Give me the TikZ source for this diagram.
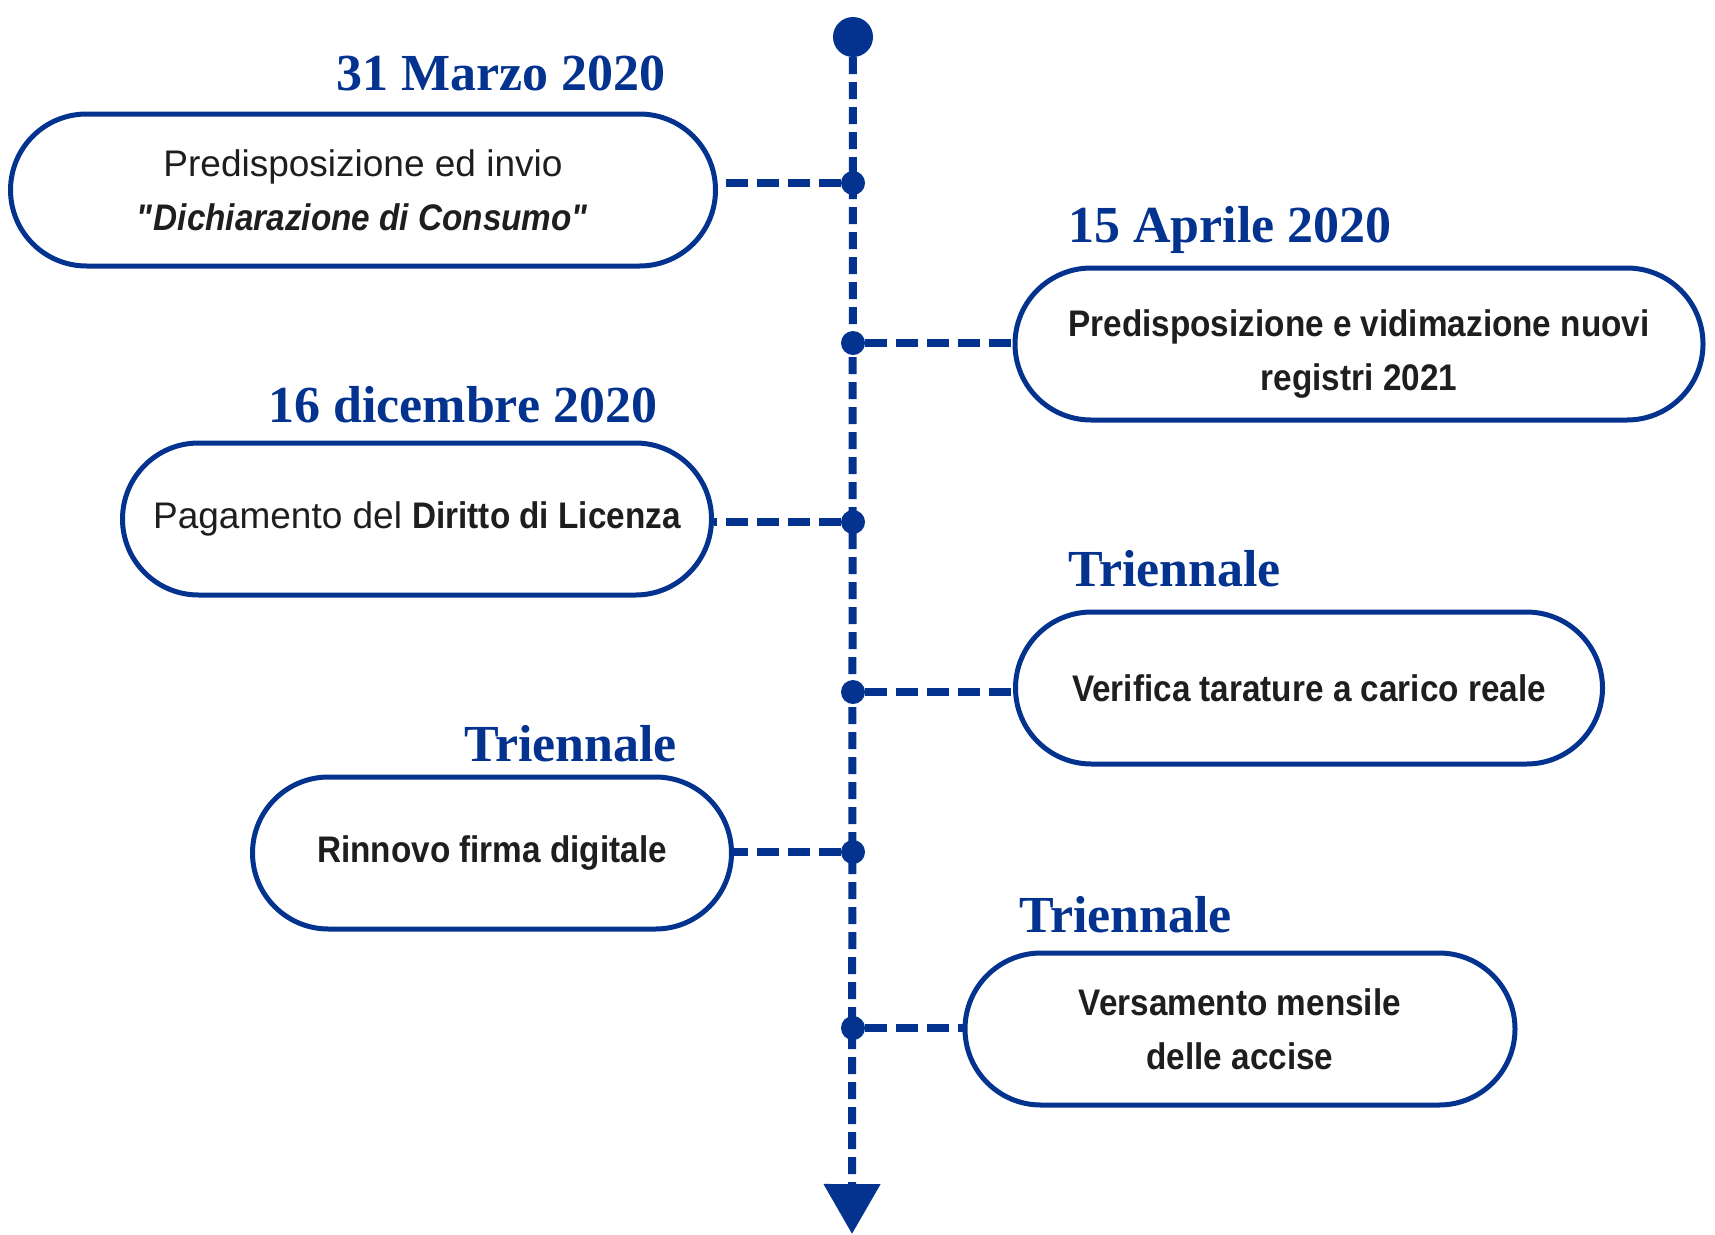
\documentclass[tikz,border=0pt]{standalone}
\usepackage{fontspec}
\setmainfont{Liberation Sans}[BoldFeatures={FakeStretch=0.9},BoldItalicFeatures={FakeStretch=0.9}]
\newfontfamily\datefont{Liberation Serif}
\usetikzlibrary{arrows.meta,shapes.misc}
\definecolor{tlblue}{RGB}{4,51,143}
\definecolor{tltext}{RGB}{30,30,30}
\newcommand\sq{\XeTeXglyph\XeTeXcharglyph"22\relax}

\begin{document}
\begin{tikzpicture}[x=1pt,y=-1pt,>={Triangle[width=55pt,length=50pt]},
  box/.style={draw=tlblue,line width=5pt,rounded rectangle,align=center,text=tltext,
    font=\fontsize{37}{54}\selectfont,inner sep=0pt,minimum height=152pt},
  date/.style={anchor=base west,text=tlblue,inner sep=0pt,
    font=\datefont\bfseries\fontsize{52}{60}\selectfont},
  dot/.style={circle,fill=tlblue,inner sep=0pt,minimum size=24pt},
  vline/.style={draw=tlblue,line width=8pt,dash pattern=on 17pt off 8pt},
  hline/.style={draw=tlblue,line width=8pt,dash pattern=on 22pt off 9pt}]
\useasboundingbox (0,0) rectangle (1715,1234);

\node[box,minimum width=705pt] (b1) at (363,190) {Predisposizione ed invio\\\textbf{\textit{\sq Dichiarazione di Consumo\sq}}};
\node[box,minimum width=688pt] (b2) at (1359,344) {\rule{0pt}{47pt}\textbf{Predisposizione e vidimazione nuovi}\\\textbf{registri 2021}};
\node[box,minimum width=589pt] (b3) at (417,519) {Pagamento del \textbf{Diritto di Licenza}};
\node[box,minimum width=587pt] (b4) at (1309,688) {\textbf{Verifica tarature a carico reale}};
\node[box,minimum width=479pt] (b5) at (492,853) {\textbf{Rinnovo firma digitale}};
\node[box,minimum width=550pt] (b6) at (1240,1029) {\textbf{Versamento mensile}\\\textbf{delle accise}};

\node[date] (t1) at (336,90) {31 Marzo 2020};
\node[date] (t2) at (1068,242) {15 Aprile 2020};
\node[date] (t3) at (268,422) {16 dicembre 2020};
\node[date] (t4) at (1068,586) {Triennale};
\node[date] (t5) at (464,761) {Triennale};
\node[date] (t6) at (1019,932) {Triennale};

\node[dot,minimum size=40pt] (start) at (853,37) {};
\coordinate (end) at (852,1234);
\draw[vline,->] (start) -- (end);
\foreach \i/\y in {1/183,2/343,3/522,4/692,5/852,6/1028}
  \node[dot] (d\i) at (853,\y) {};

\draw[hline] (d1) -- (d1 -| b1.east);
\draw[hline] (d2) -- (d2 -| b2.west);
\draw[hline] (d3) -- (d3 -| b3.east);
\draw[hline] (d4) -- (d4 -| b4.west);
\draw[hline] (d5) -- (d5 -| b5.east);
\draw[hline] (d6) -- (d6 -| b6.west);
\end{tikzpicture}
\end{document}
